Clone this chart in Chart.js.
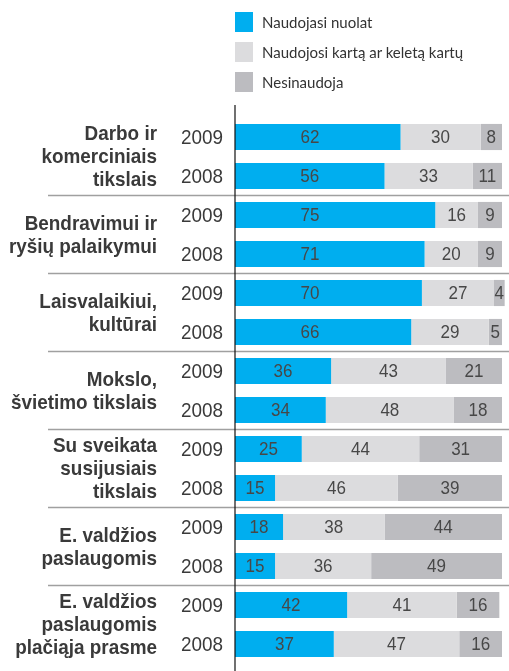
<!DOCTYPE html>
<html>
<head>
  <meta charset="utf-8" />
  <title>Interneto naudojimas</title>
  <script src="https://cdn.jsdelivr.net/npm/chart.js"></script>
  <style>
    body { margin: 0; background: #fff; }
    #wrap { position: relative; width: 509px; height: 671px; }
    #legend {
      position: absolute; left: 235px; top: 12px;
      font-family: Lato, "Open Sans", sans-serif; font-size: 15px; color: #333;
    }
    .item { display: flex; align-items: center; height: 20px; margin-bottom: 10px; }
    .box { width: 18px; height: 20px; margin-right: 9px; }
  </style>
</head>
<body>
<div id="wrap">
  <canvas id="chart" width="509" height="671"></canvas>
  <div id="legend"></div>
</div>
<script>
  const groups = [
    ["Darbo ir", "komerciniais", "tikslais"],
    ["Bendravimui ir", "ryšių palaikymui"],
    ["Laisvalaikiui,", "kultūrai"],
    ["Mokslo,", "švietimo tikslais"],
    ["Su sveikata", "susijusiais", "tikslais"],
    ["E. valdžios", "paslaugomis"],
    ["E. valdžios", "paslaugomis", "plačiąja prasme"]
  ];
  const years = ["2009", "2008", "2009", "2008", "2009", "2008", "2009", "2008",
                 "2009", "2008", "2009", "2008", "2009", "2008"];

  const nuolat      = [62, 56, 75, 71, 70, 66, 36, 34, 25, 15, 18, 15, 42, 37];
  const keletaKartu = [30, 33, 16, 20, 27, 29, 43, 48, 44, 46, 38, 36, 41, 47];
  const nesinaudoja = [8, 11, 9, 9, 4, 5, 21, 18, 31, 39, 44, 49, 16, 16];

  const seriesNames = ["Naudojasi nuolat", "Naudojosi kartą ar keletą kartų", "Nesinaudoja"];
  const colors = ["#00aeef", "#dcdcde", "#bcbcc0"];

  const sans = '"Liberation Sans", Arial, sans-serif';

  // no narrow font installed, so squeeze Liberation Sans a bit
  function narrowText(ctx, text, x, y, sx) {
    ctx.save();
    ctx.translate(x, y);
    ctx.scale(sx, 1);
    ctx.fillText(text, 0, 0);
    ctx.restore();
  }

  // years, group names, separators, axis line, values
  const extras = {
    id: 'extras',
    afterDatasetsDraw(chart) {
      const ctx = chart.ctx;
      const y = chart.scales.y;
      const area = chart.chartArea;
      ctx.save();
      ctx.textBaseline = 'middle';

      // values inside bars
      ctx.font = '18.5px ' + sans;
      ctx.fillStyle = '#474747';
      ctx.textAlign = 'center';
      chart.data.datasets.forEach((ds, di) => {
        chart.getDatasetMeta(di).data.forEach((bar, i) => {
          let cx = (bar.x + bar.base) / 2;
          if (di === 0) cx = Math.min(cx, area.left + 75);
          narrowText(ctx, ds.data[i], cx, bar.y + 1, 0.92);
        });
      });

      // separators
      ctx.strokeStyle = '#a0a0a0';
      ctx.lineWidth = 1.5;
      for (let g = 0; g < groups.length - 1; g++) {
        const sy = (y.getPixelForValue(2 * g + 1) + y.getPixelForValue(2 * g + 2)) / 2;
        ctx.beginPath();
        ctx.moveTo(48, sy);
        ctx.lineTo(chart.width, sy);
        ctx.stroke();
      }

      // vertical axis line
      ctx.strokeStyle = '#111';
      ctx.lineWidth = 1.2;
      ctx.beginPath();
      ctx.moveTo(area.left, 105);
      ctx.lineTo(area.left, chart.height);
      ctx.stroke();

      ctx.textAlign = 'right';
      ctx.fillStyle = '#3a3a3a';

      // year labels
      ctx.font = '21px ' + sans;
      chart.data.labels.forEach((lab, i) => {
        narrowText(ctx, lab, area.left - 12, y.getPixelForValue(i) + 1, 0.9);
      });

      // group names
      ctx.font = 'bold 21px ' + sans;
      groups.forEach((lines, g) => {
        const mid = (y.getPixelForValue(2 * g) + y.getPixelForValue(2 * g + 1)) / 2;
        const lh = 23;
        const top = mid - (lines.length - 1) * lh / 2;
        lines.forEach((t, k) => narrowText(ctx, t, 157, top + k * lh + 1, 0.9));
      });
      ctx.restore();
    }
  };

  const chart = new Chart(document.getElementById('chart'), {
    type: 'bar',
    data: {
      labels: years,
      datasets: [
        { label: seriesNames[0], data: nuolat, backgroundColor: colors[0] },
        { label: seriesNames[1], data: keletaKartu, backgroundColor: colors[1] },
        { label: seriesNames[2], data: nesinaudoja, backgroundColor: colors[2] }
      ]
    },
    options: {
      indexAxis: 'y',
      responsive: false,
      animation: false,
      layout: { padding: { top: 117.5, bottom: 7.5, right: 7, left: 0 } },
      datasets: { bar: { barPercentage: 0.67, categoryPercentage: 1, clip: false } },
      plugins: { legend: { display: false }, tooltip: { enabled: false } },
      scales: {
        x: { stacked: true, min: 0, max: 100, display: false },
        y: {
          stacked: true,
          grid: { display: false, drawTicks: false },
          border: { display: false },
          ticks: { display: false },
          afterFit(s) { s.width = 235; }
        }
      }
    },
    plugins: [extras]
  });

  // legend as html, one item per line
  const legend = document.getElementById('legend');
  chart.data.datasets.forEach(ds => {
    const item = document.createElement('div');
    item.className = 'item';
    item.innerHTML = '<span class="box" style="background:' + ds.backgroundColor + '"></span>' + ds.label;
    legend.appendChild(item);
  });
</script>
</body>
</html>
